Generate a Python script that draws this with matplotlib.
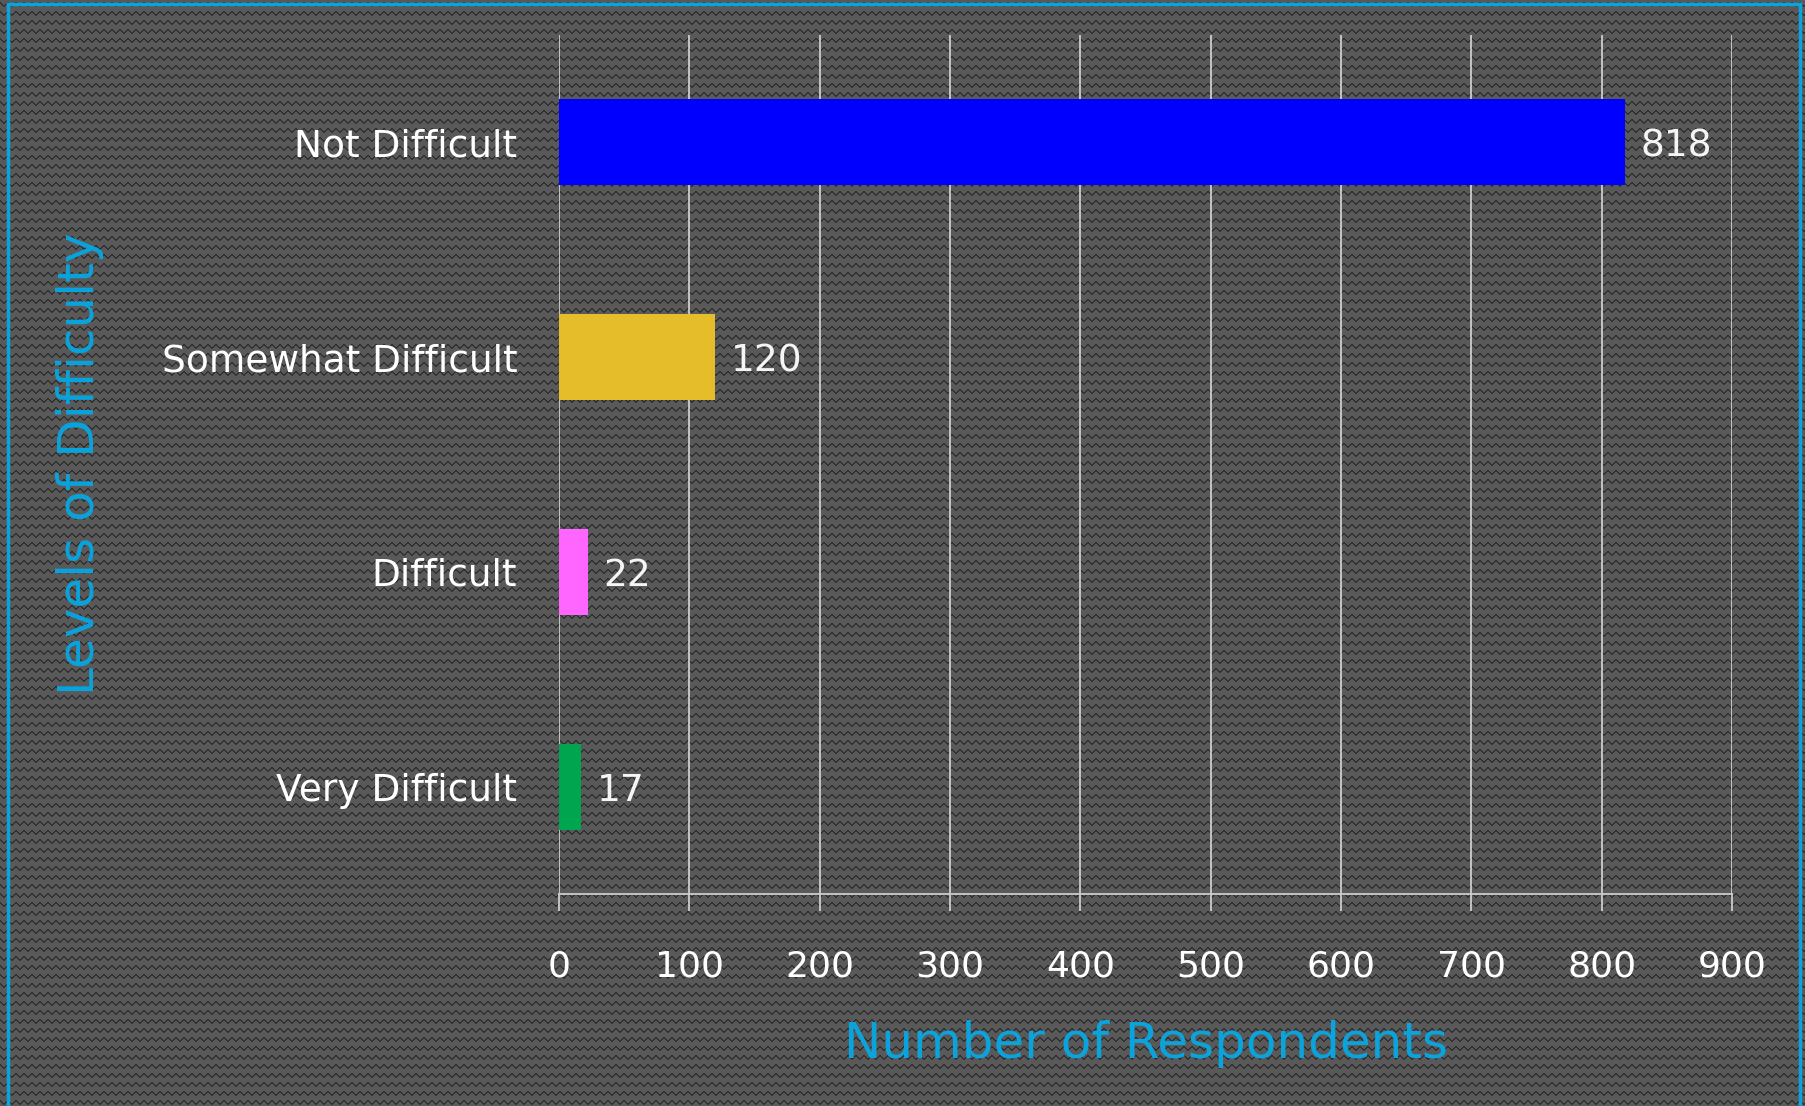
import numpy as np
import matplotlib
matplotlib.use('Agg')
import matplotlib.pyplot as plt
from matplotlib.lines import Line2D

# Data
categories = ['Not Difficult', 'Somewhat Difficult', 'Difficult', 'Very Difficult']
respondents = [818, 120, 22, 17]
bar_colors = ['#0000FF', '#E5BC2A', '#FF66FF', '#00A550']
x_ticks = [0, 100, 200, 300, 400, 500, 600, 700, 800, 900]

W, H = 1805, 1106
cyan = '#0AA3DC'
grid_col = '#CDCDCD'

fig = plt.figure(figsize=(W / 100, H / 100), dpi=100)

# zigzag textured background
tile = np.full((9, 8, 3), 0.35)
wave = [0, 1, 2, 3, 3, 2, 1, 0]
for x, y in enumerate(wave):
    tile[(y + 2) % 9, x] = 0.18
    tile[(y + 3) % 9, x] = 0.22
bg = np.tile(tile, (H // 9 + 1, W // 8 + 1, 1))[:H, :W]
fig.figimage(bg, xo=0, yo=0, origin='upper', zorder=-10)

# cyan frame (top, left, right)
fig.add_artist(Line2D([8 / W, 8 / W], [0, 1 - 4 / H], transform=fig.transFigure, color=cyan, lw=2.5))
fig.add_artist(Line2D([8 / W, 1800 / W], [1 - 4 / H, 1 - 4 / H], transform=fig.transFigure, color=cyan, lw=2.5))
fig.add_artist(Line2D([1800 / W, 1800 / W], [0, 1 - 4 / H], transform=fig.transFigure, color=cyan, lw=2.5))

ax = fig.add_axes([559 / W, 1 - 894 / H, 1173 / W, 859 / H])
ax.patch.set_alpha(0)

y_pos = np.arange(len(categories))
bars = ax.barh(y_pos, respondents, height=0.4, color=bar_colors, zorder=3)

for b, v in zip(bars, respondents):
    ax.text(b.get_width() + 12, b.get_y() + b.get_height() / 2 + 0.02, str(v),
            va='center', ha='left', color='#F5F5F5', fontsize=27)

ax.set_xlim(0, 900)
ax.set_ylim(3.5, -0.5)
ax.set_xticks(x_ticks)
ax.set_yticks(y_pos)
ax.set_yticklabels(categories)
ax.xaxis.grid(True, color=grid_col, lw=1.3, zorder=0)
ax.tick_params(axis='x', colors=grid_col, length=12, width=1.3, pad=28,
               labelsize=26, labelcolor='white', direction='out')
ax.tick_params(axis='y', length=0, pad=30, labelsize=27, labelcolor='white')

for side in ['top', 'left', 'right']:
    ax.spines[side].set_visible(False)
ax.spines['bottom'].set_color(grid_col)
ax.spines['bottom'].set_linewidth(1.3)

fig.text(80 / W, 1 - 464 / H, 'Levels of Difficulty', rotation=90,
         ha='center', va='center', color=cyan, fontsize=36)
fig.text(1146 / W, 1 - 1044 / H, 'Number of Respondents',
         ha='center', va='center', color=cyan, fontsize=36)

fig.savefig('out.png', dpi=100)
